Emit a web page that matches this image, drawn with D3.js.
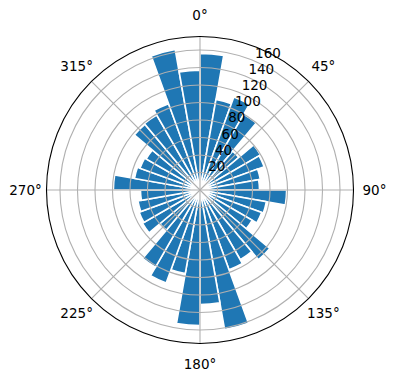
<!DOCTYPE html>
<html>
<head>
<meta charset="utf-8">
<script src="https://cdn.jsdelivr.net/npm/d3@7"></script>
<style>
  body { margin: 0; background: #fff; }
  text { font-family: "DejaVu Sans", sans-serif; fill: #000; }
</style>
</head>
<body>
<script>
// bar heights, one per 10 degree sector, clockwise from north
var values = [156, 105, 113, 100, 58, 80, 78, 70, 68,
              99, 77, 75, 69, 104, 92, 97, 162, 131,
              155, 97, 113, 102, 60, 76, 74, 72, 68,
              99, 76, 73, 71, 98, 99, 105, 163, 137];
var sectorStarts = d3.range(0, 360, 10);
var rTicks = [20, 40, 60, 80, 100, 120, 140, 160];
var thetaTicks = [0, 45, 90, 135, 180, 225, 270, 315];
var rMax = 175.4;

var width = 396, height = 380,
    cx = 200, cy = 190,
    outer = 153.5;

var rad = Math.PI / 180;

var svg = d3.select("body").append("svg")
    .attr("width", width)
    .attr("height", height);

var g = svg.append("g")
    .attr("transform", "translate(" + cx + "," + cy + ")");

var r = d3.scaleLinear().domain([0, rMax]).range([0, outer]);
var step = 360 / values.length;

var arc = d3.arc()
    .innerRadius(0)
    .outerRadius(function(d) { return r(d.v); })
    .startAngle(function(d) { return d.a * rad; })
    .endAngle(function(d) { return (d.a + step) * rad; });

// bars
g.selectAll("path.bar")
  .data(values.map(function(v, i) { return {v: v, a: sectorStarts[i]}; }))
  .enter()
  .append("path")
    .attr("class", "bar")
    .attr("d", arc)
    .attr("fill", "#1f77b4")
    .attr("stroke", "#fff")
    .attr("stroke-width", 1.6)
    .attr("stroke-linejoin", "miter");

// grid drawn over the bars, like matplotlib does
g.selectAll("circle.ring")
  .data(rTicks)
  .enter()
  .append("circle")
    .attr("class", "ring")
    .attr("r", function(d) { return r(d); })
    .attr("fill", "none")
    .attr("stroke", "#b0b0b0")
    .attr("stroke-width", 1.1);

g.selectAll("line.spoke")
  .data(thetaTicks)
  .enter()
  .append("line")
    .attr("class", "spoke")
    .attr("x1", 0)
    .attr("y1", 0)
    .attr("x2", function(d) { return outer * Math.sin(d * rad); })
    .attr("y2", function(d) { return -outer * Math.cos(d * rad); })
    .attr("stroke", "#b0b0b0")
    .attr("stroke-width", 1.1);

// outer frame
g.append("circle")
    .attr("r", outer)
    .attr("fill", "none")
    .attr("stroke", "#000")
    .attr("stroke-width", 1.1);

// angle labels
g.selectAll("text.theta")
  .data(thetaTicks)
  .enter()
  .append("text")
    .attr("class", "theta")
    .attr("x", function(d) { return (outer + 21) * Math.sin(d * rad); })
    .attr("y", function(d) { return -(outer + 21) * Math.cos(d * rad); })
    .attr("text-anchor", "middle")
    .attr("dy", "0.36em")
    .style("font-size", "13.5px")
    .text(function(d) { return d + "°"; });

// radius labels along 22.5 degrees
var labelAngle = 22.5 * rad;
g.selectAll("text.rlab")
  .data(rTicks)
  .enter()
  .append("text")
    .attr("class", "rlab")
    .attr("x", function(d) { return r(d) * Math.sin(labelAngle) + 1.5; })
    .attr("y", function(d) { return -r(d) * Math.cos(labelAngle) - 3; })
    .attr("text-anchor", "start")
    .style("font-size", "13.5px")
    .text(function(d) { return d; });
</script>
</body>
</html>
